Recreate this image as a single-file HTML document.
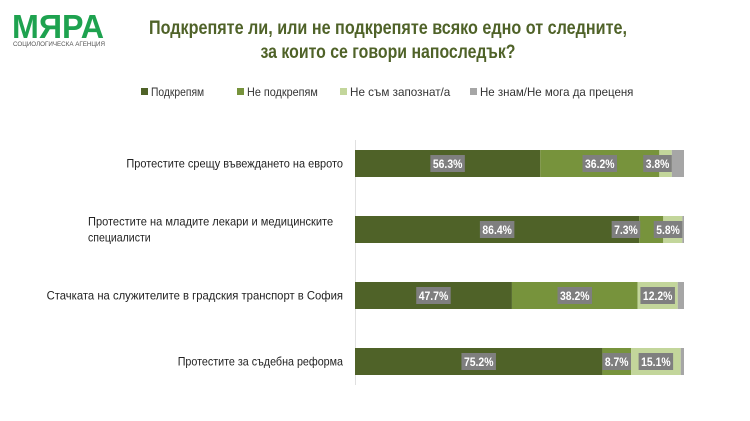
<!DOCTYPE html>
<html><head><meta charset="utf-8"><style>
body{margin:0;background:#fff;}
svg{display:block;font-family:"Liberation Sans",sans-serif;}
</style></head><body>
<svg id="chart" width="750" height="421" viewBox="0 0 750 421">
<g>
<text x="12" y="38" font-size="33" font-weight="bold" fill="#1ea24f" textLength="92" lengthAdjust="spacingAndGlyphs">МЯРА</text>
<text x="13" y="46" font-size="6" fill="#555" textLength="92" lengthAdjust="spacingAndGlyphs">СОЦИОЛОГИЧЕСКА АГЕНЦИЯ</text>
</g>
<text x="388" y="34" text-anchor="middle" font-size="19" font-weight="bold" fill="#4f6228" textLength="478" lengthAdjust="spacingAndGlyphs">Подкрепяте ли, или не подкрепяте всяко едно от следните,</text>
<text x="388" y="58" text-anchor="middle" font-size="19" font-weight="bold" fill="#4f6228" textLength="255" lengthAdjust="spacingAndGlyphs">за които се говори напоследък?</text>
<g id="legend"></g>
<line x1="355.5" y1="140" x2="355.5" y2="385" stroke="#e0e0e0"/>
<g id="cats"></g>
<g id="bars"></g>
</svg>
<script>
const categories=[["Протестите срещу въвеждането на еврото"],["Протестите на младите лекари и медицинските","специалисти"],["Стачката на служителите в градския транспорт в София"],["Протестите за съдебна реформа"]];
const support=[56.3,86.4,47.7,75.2];
const oppose=[36.2,7.3,38.2,8.7];
const unaware=[3.8,5.8,12.2,15.1];
const dontKnow=[3.7,0.5,1.9,1.0];
const seriesNames=["Подкрепям","Не подкрепям","Не съм запознат/а","Не знам/Не мога да преценя"];
const colors=["#4f6228","#77933c","#c3d69b","#a6a6a6"];
const NS="http://www.w3.org/2000/svg";
const x0=355,x1=684;
const xs=v=>x0+(x1-x0)*v/100;
const rowY=i=>150+i*66;
const barH=27;
function mk(t,a,p){const e=document.createElementNS(NS,t);for(const k in a)e.setAttribute(k,a[k]);p.appendChild(e);return e;}
function tw(s,perChar){return s.length*perChar;}
const leg=document.getElementById('legend');
const legX=[141,237,340,470];
seriesNames.forEach((n,i)=>{
 const g=mk('g',{},leg);
 
 
 mk('rect',{x:legX[i],y:88,width:7,height:7,fill:colors[i]},g);
 const t=mk('text',{x:legX[i]+10,y:96,'font-size':12,fill:'#333',textLength:tw(n,5.9),lengthAdjust:'spacingAndGlyphs'},g);t.textContent=n;
});
const cg=document.getElementById('cats');
categories.forEach((lines,i)=>{
 const cy=rowY(i)+barH/2;
 lines.forEach((l,j)=>{
  const y=cy+4+(j-(lines.length-1)/2)*16;
  const w=tw(l,5.7);
  const t=mk('text',lines.length>1?{x:88,y:y,'font-size':12,fill:'#222',textLength:w,lengthAdjust:'spacingAndGlyphs'}:{x:343-w,y:y,'font-size':12,fill:'#222',textLength:w,lengthAdjust:'spacingAndGlyphs'},cg);
  
  
  t.textContent=l;
 });
});
const bg=document.getElementById('bars');
const series=[support,oppose,unaware,dontKnow];
categories.forEach((c,i)=>{
 let acc=0;
 series.forEach((s,k)=>{
  const v=s[i];const xa=xs(acc),xb=xs(acc+v);acc+=v;
  const r=mk('rect',{x:xa,y:rowY(i),width:xb-xa,height:barH,fill:colors[k]},bg);
  
  
 });
});
categories.forEach((c,i)=>{
 let acc=0;
 series.forEach((s,k)=>{
  const v=s[i];const xa=xs(acc),xb=xs(acc+v);acc+=v;
  if(k<3){
   const txt=v.toFixed(1)+'%';const textW=tw(txt,5.9);const w=textW+5;
   let cx=(xa+xb)/2;
   if(w>xb-xa){
     if(k===1) cx=xa+1-w/2;
     else cx=Math.min(xb,x1)-w/2;
   }
   const lb=mk('rect',{x:cx-w/2,y:rowY(i)+5,width:w,height:17,fill:'#7f7f7f'},bg);
   
   
   const t=mk('text',{x:cx-textW/2,y:rowY(i)+18,'font-size':12,'font-weight':'bold',fill:'#fff',textLength:textW,lengthAdjust:'spacingAndGlyphs'},bg);
   
   
   t.textContent=txt;
  }
 });
});
</script>
</body></html>
